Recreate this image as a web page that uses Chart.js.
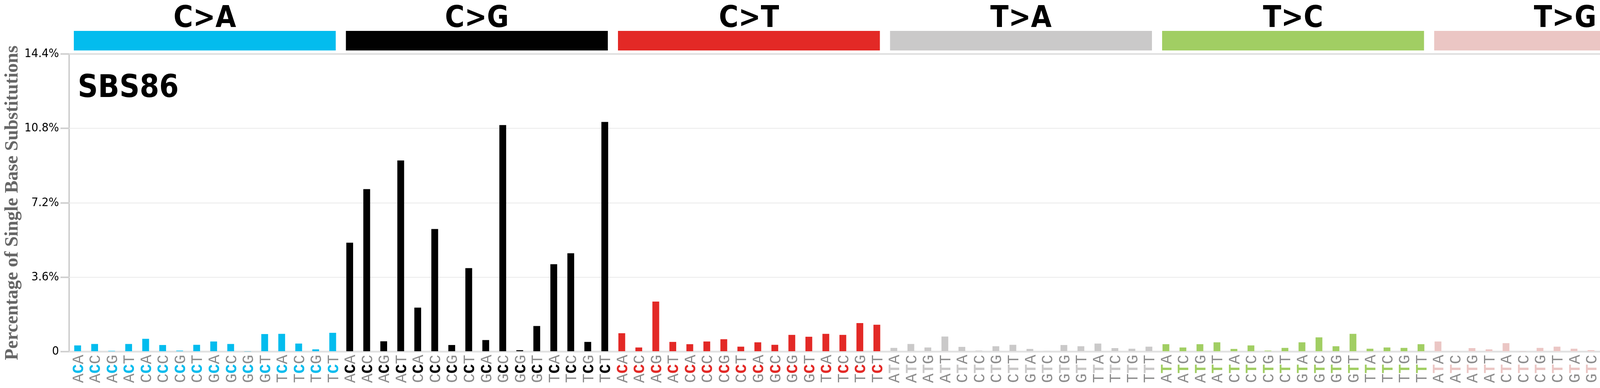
<!DOCTYPE html>
<html><head><meta charset="utf-8">
<script src="https://cdn.jsdelivr.net/npm/chart.js@4/dist/chart.umd.min.js"></script>
<style>html,body{margin:0;padding:0;background:#fff;overflow:hidden}canvas{display:block}</style>
</head><body><canvas id="c" width="4393" height="992" style="width:4393px;height:992px"></canvas>
<script>
const groups = ["C>A","C>G","C>T","T>A","T>C","T>G"];
const groupColors = ["#03BCEE","#010101","#E32926","#CAC9C9","#A1CE63","#EBC6C4"];
const contexts = ["A_A","A_C","A_G","A_T","C_A","C_C","C_G","C_T","G_A","G_C","G_G","G_T","T_A","T_C","T_G","T_T"];
const valsCA = [0.30,0.37,0.04,0.37,0.62,0.32,0.05,0.33,0.49,0.37,0.01,0.85,0.86,0.39,0.11,0.91];
const valsCG = [5.27,7.86,0.50,9.25,2.13,5.93,0.32,4.04,0.56,10.96,0.07,1.24,4.23,4.76,0.47,11.11];
const valsCT = [0.89,0.20,2.42,0.47,0.36,0.49,0.60,0.24,0.45,0.33,0.81,0.72,0.86,0.81,1.38,1.30];
const valsTA = [0.18,0.37,0.20,0.73,0.23,0.05,0.26,0.33,0.13,0.04,0.32,0.26,0.39,0.17,0.14,0.24];
const valsTC = [0.36,0.20,0.36,0.45,0.13,0.30,0.05,0.18,0.45,0.69,0.26,0.86,0.14,0.20,0.18,0.36];
const valsTG = [0.49,0.01,0.17,0.11,0.41,0.01,0.18,0.24,0.14,0.07,0.05,0.23,0.72,0.24,0.20,0.49];
const yTicks = [0,3.6,7.2,10.8,14.4];
const title = "SBS86";
const yTitle = "Percentage of Single Base Substitutions";

const allVals=[valsCA,valsCG,valsCT,valsTA,valsTC,valsTG];
const labels=[],values=[],colors=[];
groups.forEach((g,gi)=>{contexts.forEach((c,ci)=>{
  labels.push(c.replace("_",g[0])); values.push(allVals[gi][ci]); colors.push(groupColors[gi]);
});});
const COND="'DejaVu Sans Condensed','DejaVu Sans'";

const deco={id:"deco",
 beforeDraw(ch){const {ctx,chartArea:a}=ch;ctx.save();ctx.strokeStyle="#d0d0d0";ctx.lineWidth=4;
   ctx.strokeRect(a.left,a.top,a.right-a.left,a.bottom-a.top);ctx.restore();},
 afterDraw(ch){const {ctx,chartArea:a,scales:{x,y}}=ch;ctx.save();
  ctx.strokeStyle="#d0d0d0";ctx.lineWidth=4;
  yTicks.forEach(t=>{const py=y.getPixelForValue(t);ctx.beginPath();ctx.moveTo(a.right-22,py);ctx.lineTo(a.right,py);ctx.stroke();});
  const step=x.getPixelForValue(1)-x.getPixelForValue(0);
  groups.forEach((g,gi)=>{const l=x.getPixelForValue(gi*16)-step/2+12,r=x.getPixelForValue(gi*16+15)+step/2-14;
    ctx.fillStyle=groupColors[gi];ctx.fillRect(l,79,r-l,50);
    ctx.fillStyle="#000";ctx.font="bold 76px "+COND;ctx.textAlign="center";ctx.textBaseline="alphabetic";
    ctx.fillText(g,(l+r)/2,69);});
  ctx.fillStyle="#000";ctx.font="bold 80px "+COND;ctx.textAlign="left";ctx.fillText(title,a.left+22,248);
  labels.forEach((lb,i)=>{const px=x.getPixelForValue(i);ctx.save();ctx.translate(px+14,a.bottom+8);ctx.rotate(-Math.PI/2);
    ctx.textAlign="right";ctx.textBaseline="alphabetic";let xx=0;
    const chars=lb.split("");
    const f1="40px 'Liberation Mono'",f2="bold 40px 'Liberation Mono'";
    ctx.font=f1;const w=ctx.measureText("A").width;
    for(let k=2;k>=0;k--){ctx.font=k===1?f2:f1;ctx.fillStyle=k===1?colors[i]:"#8c8c8c";ctx.fillText(chars[k],xx,0);xx-=w;}
    ctx.restore();});
  ctx.restore();}};

new Chart(document.getElementById("c"),{type:"bar",
 data:{labels:labels,datasets:[{data:values,backgroundColor:colors,barPercentage:0.4,categoryPercentage:1}]},
 options:{responsive:false,devicePixelRatio:1,animation:false,
  layout:{padding:{left:0,right:37,top:138,bottom:85}},
  plugins:{legend:{display:false},tooltip:{enabled:false}},
  scales:{
   x:{ticks:{display:false},grid:{display:false},border:{display:false}},
   y:{min:0,max:14.4,afterBuildTicks(s){s.ticks=yTicks.map(v=>({value:v}));},
     ticks:{color:"#000",font:{size:31,family:COND},padding:4,callback:v=>v===0?"0":v.toFixed(1)+"%"},
     grid:{color:"#eaeaea",lineWidth:2,tickLength:22,tickColor:"#d0d0d0",tickWidth:4},border:{display:false},
     title:{display:true,text:yTitle,color:"#666",font:{size:48,weight:"bold",family:"'Liberation Serif'"},padding:{bottom:2}},
     afterFit(s){s.width=177;}}
  }},
 plugins:[deco]});
</script></body></html>
